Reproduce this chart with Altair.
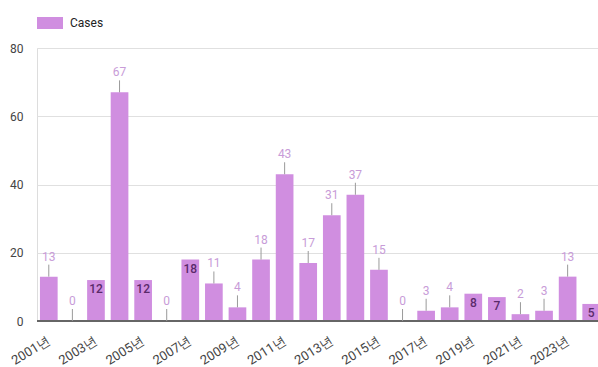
import altair as alt
import pandas as pd

years = [f"{y}년" for y in range(2001, 2025)]
cases = [13, 0, 12, 67, 12, 0, 18, 11, 4, 18, 43, 17, 31, 37, 15, 0, 3, 4, 8, 7, 2, 3, 13, 5]
# label placement as drawn in the reference: True = inside bar, False = above with stem
label_inside = [False, False, True, False, True, False, True, False, False, False, False, False,
                False, False, False, False, False, False, True, True, False, False, False, True]
tick_years = years[::2]

df = pd.DataFrame({"year": years, "cases": cases, "inside": label_inside, "series": "Cases"})

BAR = "#d08ee0"
FONT = "Roboto"

x = alt.X("year:N", sort=years, title=None,
          scale=alt.Scale(range=[0, 566], paddingInner=0.25, paddingOuter=0.125),
          axis=alt.Axis(values=tick_years, labelAngle=328, labelAlign="right", labelBaseline="middle",
                        labelPadding=18, ticks=False, domain=False, labelFontSize=13,
                        labelColor="#444", labelFont=FONT, grid=False))
y = alt.Y("cases:Q", title=None,
          scale=alt.Scale(domain=[0, 80], nice=False),
          axis=alt.Axis(values=list(range(0, 81, 10)),
                        labelExpr="datum.value % 20 == 0 ? datum.label : ''",
                        ticks=False, domain=False, labelPadding=14, labelFontSize=12,
                        labelColor="#444", labelFont=FONT, gridColor="#e0e0e0"))

base = alt.Chart(df)

bars = base.mark_bar(clip=False).encode(
    x=x, y=y,
    color=alt.Color("series:N", scale=alt.Scale(domain=["Cases"], range=[BAR]),
                    legend=alt.Legend(title=None, orient="none", legendX=0, legendY=-38,
                                      symbolType="M-1,-0.46H1V0.46H-1Z", symbolSize=676,
                                      symbolStrokeWidth=0, labelFontSize=12, labelColor="#222",
                                      labelFont=FONT, labelOffset=7, padding=0)),
)

baseline = base.mark_rule(color="#666", strokeWidth=1).encode(y=alt.datum(0))

above = base.transform_filter("!datum.inside")

stems = above.mark_rule(color="#9a9a9a", strokeWidth=1, y2Offset=-12).encode(
    x=alt.X("year:N", sort=years), y="cases:Q", y2="cases:Q")

labels_above = above.mark_text(dy=-20, baseline="middle", fontSize=12, font=FONT,
                               color="#c89cd8").encode(
    x=alt.X("year:N", sort=years), y="cases:Q", text="cases:Q")

labels_inside = base.transform_filter("datum.inside").mark_text(
    dy=9, baseline="middle", fontSize=12, font=FONT, fontWeight=500,
    color="#5a2a6a").encode(
    x=alt.X("year:N", sort=years), y="cases:Q", text="cases:Q")

chart = alt.layer(bars, baseline, stems, labels_above, labels_inside).properties(
    width=561, height=273,
    autosize=alt.AutoSizeParams(type="none"),
    padding={"left": 37, "top": 48, "right": 0, "bottom": 46},
).configure_view(stroke=None).configure(background="white")

chart.save("out.html", embed_options={"renderer": "svg", "actions": False})
